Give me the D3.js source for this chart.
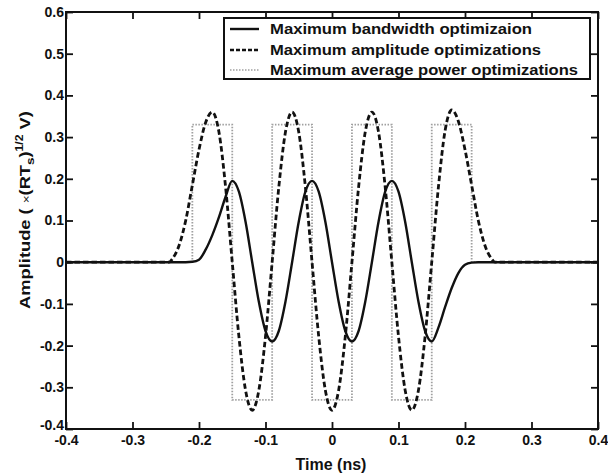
<!DOCTYPE html>
<html>
<head>
<meta charset="utf-8">
<script src="https://cdn.jsdelivr.net/npm/d3@7"></script>
<style>
  html, body { margin: 0; padding: 0; background: #fff; }
  svg { display: block; font-family: "Liberation Sans", Arial, Helvetica, sans-serif; font-weight: bold; }
</style>
</head>
<body>
<svg id="chart" width="608" height="475"></svg>
<script>
// ---------------- DATA ----------------
const xTickValues = [-0.4, -0.3, -0.2, -0.1, 0, 0.1, 0.2, 0.3, 0.4];
const xTickLabels = ["-0.4", "-0.3", "-0.2", "-0.1", "0", "0.1", "0.2", "0.3", "0.4"];
const yTickValues = [-0.4, -0.3, -0.2, -0.1, 0, 0.1, 0.2, 0.3, 0.4, 0.5, 0.6];
const yTickLabels = ["-0.4", "-0.3", "-0.2", "-0.1", "0", "0.1", "0.2", "0.3", "0.4", "0.5", "0.6"];

const seriesNames = [
  "Maximum bandwidth optimizaion",
  "Maximum amplitude optimizations",
  "Maximum average power optimizations"
];

// Maximum bandwidth optimization (solid)
const bandwidthTime = [-0.4, -0.22, -0.21, -0.20, -0.19, -0.18, -0.17, -0.16, -0.15, -0.14, -0.13, -0.12, -0.11, -0.10,
  -0.09, -0.08, -0.07, -0.06, -0.05, -0.04, -0.03, -0.02, -0.01, 0, 0.01, 0.02, 0.03, 0.04, 0.05, 0.06, 0.07, 0.08,
  0.09, 0.10, 0.11, 0.12, 0.13, 0.14, 0.15, 0.16, 0.17, 0.18, 0.19, 0.20, 0.21, 0.22, 0.4];
const bandwidthAmp = [0, 0, 0.001, 0.006, 0.03, 0.065, 0.108, 0.157, 0.195, 0.169, 0.097, 0, -0.095, -0.165,
  -0.19, -0.165, -0.095, 0, 0.097, 0.169, 0.195, 0.169, 0.097, 0, -0.095, -0.165, -0.19, -0.165, -0.095, 0, 0.097, 0.169,
  0.195, 0.169, 0.097, 0, -0.095, -0.165, -0.19, -0.157, -0.108, -0.062, -0.026, -0.006, -0.001, 0, 0];

// Maximum amplitude optimization (dashed)
const amplitudeTime = [-0.4, -0.245, -0.24, -0.23, -0.22, -0.21, -0.20, -0.19, -0.18, -0.17, -0.16, -0.15, -0.14, -0.13,
  -0.12, -0.11, -0.10, -0.09, -0.08, -0.07, -0.06, -0.05, -0.04, -0.03, -0.02, -0.01, 0, 0.01, 0.02, 0.03, 0.04, 0.05,
  0.06, 0.07, 0.08, 0.09, 0.10, 0.11, 0.12, 0.13, 0.14, 0.15, 0.16, 0.17, 0.18, 0.19, 0.20, 0.21, 0.22, 0.23, 0.24, 0.245, 0.4];
const amplitudeAmp = [0, 0, 0.008, 0.04, 0.1, 0.185, 0.27, 0.335, 0.36, 0.312, 0.18, 0, -0.178, -0.307,
  -0.355, -0.307, -0.178, 0, 0.18, 0.312, 0.36, 0.312, 0.18, 0, -0.178, -0.307, -0.355, -0.307, -0.178, 0, 0.18, 0.312,
  0.36, 0.312, 0.18, 0, -0.178, -0.307, -0.355, -0.307, -0.178, 0, 0.18, 0.315, 0.365, 0.338, 0.27, 0.185, 0.1, 0.04, 0.008, 0, 0];

// Maximum average power optimization (dotted square wave): level holds from each time to the next
const powerTime = [-0.4, -0.21, -0.15, -0.09, -0.03, 0.03, 0.09, 0.15, 0.21, 0.4];
const powerAmp  = [0, 0.33, -0.33, 0.33, -0.33, 0.33, -0.33, 0.33, 0, 0];

// ---------------- CHART ----------------
const svg = d3.select("#chart");
const mLeft = 66, mRight = 598, mTop = 12, mBottom = 429;

const x = d3.scaleLinear().domain([-0.4, 0.4]).range([mLeft, mRight]);
const y = d3.scaleLinear().domain([-0.4, 0.6]).range([mBottom, mTop]);

const toPts = (ts, vs) => ts.map((t, i) => [t, vs[i]]);

const lineSmooth = d3.line().x(d => x(d[0])).y(d => y(d[1])).curve(d3.curveMonotoneX);
const lineStep = d3.line().x(d => x(d[0])).y(d => y(d[1])).curve(d3.curveStepAfter);

const plot = svg.append("g");

// dotted power
plot.append("path")
  .attr("d", lineStep(toPts(powerTime, powerAmp)))
  .attr("fill", "none").attr("stroke", "#a0a0a0").attr("stroke-width", 1.8)
  .attr("stroke-dasharray", "1.5,1.5");

// solid bandwidth
plot.append("path")
  .attr("d", lineSmooth(toPts(bandwidthTime, bandwidthAmp)))
  .attr("fill", "none").attr("stroke", "#111").attr("stroke-width", 2.4)
  .attr("stroke-linejoin", "round");

// dashed amplitude
plot.append("path")
  .attr("d", lineSmooth(toPts(amplitudeTime, amplitudeAmp)))
  .attr("fill", "none").attr("stroke", "#111").attr("stroke-width", 2.8)
  .attr("stroke-dasharray", "5.5,3");

// axes (inward ticks on all four sides)
const fmtX = d => xTickLabels[xTickValues.indexOf(d)];
const fmtY = d => yTickLabels[yTickValues.indexOf(d)];

const gB = svg.append("g").attr("transform", `translate(0,${mBottom})`)
  .call(d3.axisBottom(x).tickValues(xTickValues).tickFormat(fmtX).tickSize(-7).tickPadding(6));
const gT = svg.append("g").attr("transform", `translate(0,${mTop})`)
  .call(d3.axisTop(x).tickValues(xTickValues).tickFormat("").tickSize(-7));
const gL = svg.append("g").attr("transform", `translate(${mLeft},0)`)
  .call(d3.axisLeft(y).tickValues(yTickValues).tickFormat(fmtY).tickSize(-7).tickPadding(2));
const gR = svg.append("g").attr("transform", `translate(${mRight},0)`)
  .call(d3.axisRight(y).tickValues(yTickValues).tickFormat("").tickSize(-7));

[gB, gT, gL, gR].forEach(g => {
  g.select(".domain").remove();
  g.selectAll(".tick line").attr("stroke", "#111").attr("stroke-width", 1.8);
  g.selectAll("text").attr("font-size", 14).attr("font-weight", "bold").attr("fill", "#111")
    .attr("font-family", '"Liberation Sans", Arial, sans-serif');
});
gB.selectAll("text").attr("dy", "0.71em");
gL.selectAll(".tick").filter(d => d === -0.4).select("text").attr("dy", "0.05em");

// frame
svg.append("rect").attr("x", mLeft).attr("y", mTop).attr("width", mRight - mLeft).attr("height", mBottom - mTop)
  .attr("fill", "none").attr("stroke", "#111").attr("stroke-width", 2);

// legend
const lg = svg.append("g");
lg.append("rect").attr("x", 224).attr("y", 18).attr("width", 366).attr("height", 61)
  .attr("fill", "#fff").attr("stroke", "#111").attr("stroke-width", 2);
const legendStyles = [
  { stroke: "#111", width: 2.4, dash: null },
  { stroke: "#111", width: 2.4, dash: "4,2" },
  { stroke: "#a0a0a0", width: 1.4, dash: "1.5,1.5" }
];
const legendRowY = [29, 50, 70];
const legendWidths = [262, 271, 308];
seriesNames.forEach((name, i) => {
  const yy = legendRowY[i];
  lg.append("line").attr("x1", 230).attr("x2", 259).attr("y1", yy).attr("y2", yy)
    .attr("stroke", legendStyles[i].stroke).attr("stroke-width", legendStyles[i].width)
    .attr("stroke-dasharray", legendStyles[i].dash);
  lg.append("text").attr("x", 270).attr("y", yy).attr("dy", "0.36em")
    .attr("font-size", 15).attr("fill", "#111")
    .attr("textLength", legendWidths[i]).attr("lengthAdjust", "spacingAndGlyphs")
    .text(name);
});

// x label
svg.append("text").attr("x", 331).attr("y", 470).attr("text-anchor", "middle")
  .attr("font-size", 16).attr("fill", "#111").text("Time (ns)");

// y label (slightly stretched along its length, like the reference)
const yl = svg.append("text").attr("transform", "translate(30,210) rotate(-90) scale(1.22,1)")
  .attr("text-anchor", "middle").attr("font-size", 15).attr("fill", "#111");
yl.append("tspan").text("Amplitude ( ");
yl.append("tspan").attr("font-weight", "normal").attr("font-size", 11).text("×");
yl.append("tspan").text("(RT");
yl.append("tspan").attr("font-size", 11).attr("dy", 4).text("s");
yl.append("tspan").attr("dy", -4).text(")");
yl.append("tspan").attr("font-size", 10).attr("dy", -7).text("1/2");
yl.append("tspan").attr("dy", 7).text(" V)");
</script>
</body>
</html>
